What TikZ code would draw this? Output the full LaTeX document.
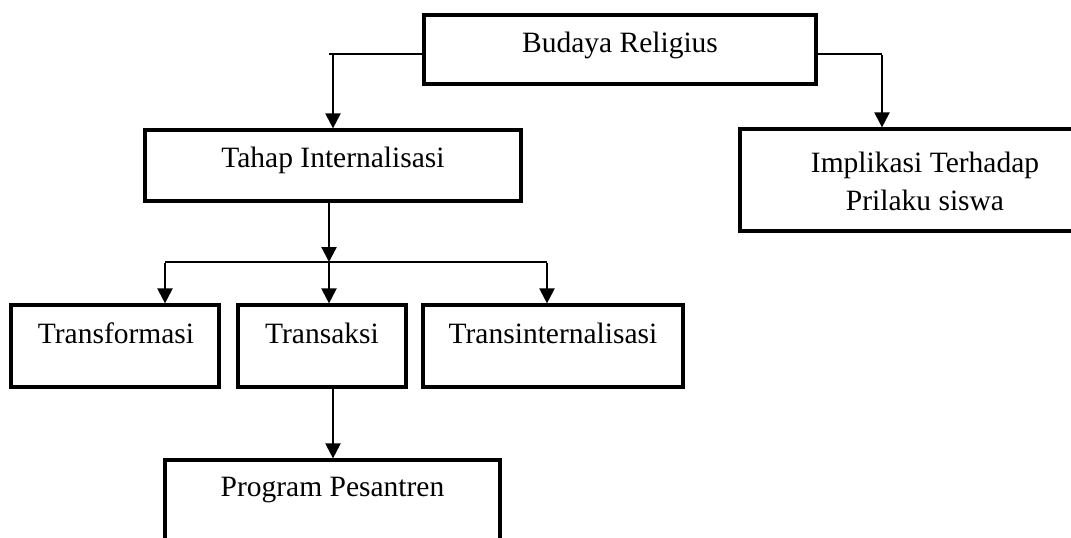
\documentclass[tikz,border=0pt]{standalone}
\usepackage{fontspec}
\setmainfont{Liberation Serif}
\usetikzlibrary{arrows.meta}
\begin{document}
\begin{tikzpicture}[x=1pt,y=-1pt,
  box/.style={draw=black, line width=3.2pt, rectangle, inner sep=0pt, fill=none},
  lbl/.style={inner sep=0pt, font=\fontsize{29.5}{38}\selectfont, align=center},
  conn/.style={draw=black, line width=2.2pt, -{Triangle[length=15pt,width=15pt]}},
  hline/.style={draw=black, line width=1.5pt}]
\clip (0,0) rectangle (1071,538);
\fill[white] (0,0) rectangle (1071,538);
% boxes
\node[box, minimum width=392pt, minimum height=69pt] (budaya) at (620,49.5) {};
\node[box, minimum width=376pt, minimum height=71pt] (tahap) at (333,165.5) {};
\node[box, minimum width=370pt, minimum height=102pt] (implikasi) at (925,180) {};
\node[box, minimum width=208pt, minimum height=82pt] (transformasi) at (115,346) {};
\node[box, minimum width=168pt, minimum height=82pt] (transaksi) at (322,346) {};
\node[box, minimum width=260pt, minimum height=82pt] (transint) at (553,346) {};
\node[box, minimum width=335pt, minimum height=110pt] (program) at (332.5,515) {};
% labels
\node[lbl] (tBudaya) at (620,45) {Budaya Religius};
\node[lbl] (tTahap) at (333,160) {Tahap Internalisasi};
\node[lbl] (tImplikasi) at (925,181) {Implikasi Terhadap\\Prilaku siswa};
\node[lbl] (tTransformasi) at (116,333) {Transformasi};
\node[lbl] (tTransaksi) at (322,333) {Transaksi};
\node[lbl] (tTransint) at (553,333) {Transinternalisasi};
\node[lbl] (tProgram) at (332.5,490) {Program Pesantren};
% junction coordinates
\coordinate (jL) at (333,54);
\coordinate (jR) at (882,54);
\coordinate (split) at (329,262);
\coordinate (sL) at (165,262);
\coordinate (sR) at (547,262);
\coordinate (jP) at (333,400);
% connectors
\draw[hline] (budaya.west |- jL) -- ([xshift=-4pt]jL);
\draw[conn] (jL) -- (tahap.north -| jL);
\draw[hline] (budaya.east |- jR) -- (jR);
\draw[conn] ([yshift=-0.7pt]jR) -- (implikasi.north -| jR);
\draw[conn] (tahap.south -| split) -- (split);
\draw[hline] (sL) -- (sR);
\draw[conn] ([yshift=-0.7pt]sL) -- (transformasi.north -| sL);
\draw[conn] (split) -- (transaksi.north -| split);
\draw[conn] ([yshift=-0.7pt]sR) -- (transint.north -| sR);
\draw[conn] (transaksi.south -| jP) -- (program.north -| jP);
\end{tikzpicture}
\end{document}
